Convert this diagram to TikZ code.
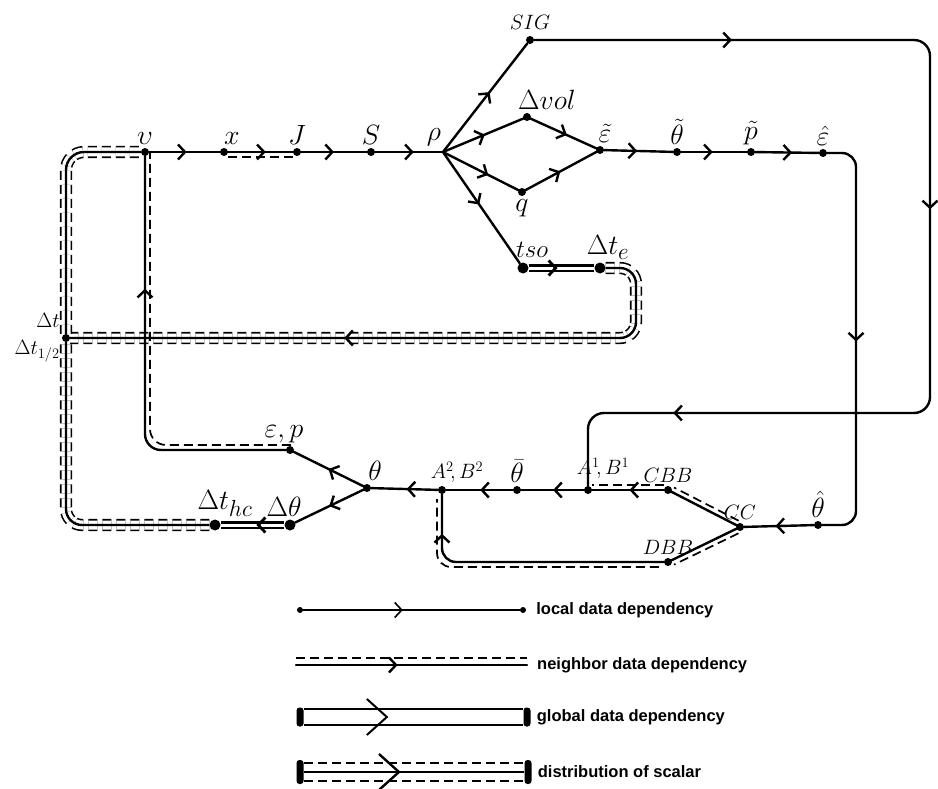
\documentclass[tikz,border=0pt]{standalone}
\usepackage{fontspec}
\setsansfont{Liberation Sans}
\usetikzlibrary{positioning,arrows.meta,calc,decorations.markings}
\newcommand{\hand}[1]{\scalebox{1.12}{$#1$}}

\begin{document}
\begin{tikzpicture}[x=1pt,y=-1pt,
  dot/.style={circle, fill, inner sep=0pt, minimum size=8pt},
  blob/.style={circle, fill, inner sep=0pt, minimum size=11pt},
  junc/.style={inner sep=0pt, minimum size=0pt},
  lab/.style={font=\fontsize{24.88}{28}\selectfont, inner sep=1pt, label distance=2pt},
  slab/.style={font=\fontsize{20.74}{22}\selectfont, inner sep=1pt, label distance=2pt},
  local/.style={line width=2.4pt, line cap=round},
  nbrdash/.style={line width=1.7pt, dash pattern=on 9pt off 5pt},
  glob/.style={line width=2.8pt, double, double distance=3pt},
  dist/.style={line width=2.4pt, preaction={draw, line width=1.6pt, dash pattern=on 9pt off 5pt, double, double distance=#1}},
  dist/.default=9pt,
  midarrow/.style={postaction={decorate, decoration={markings, mark=at position #1 with {\arrow{Straight Barb[length=7pt,width=15pt]}}}}},
  midarrow/.default=0.5,
  bigarrow/.style={postaction={decorate, decoration={markings, mark=at position #1 with {\arrow{Straight Barb[length=20pt,width=36pt]}}}}},
  legtext/.style={font=\sffamily\bfseries\fontsize{16.5}{18}\selectfont, inner sep=0pt},
  endcap/.style={fill, rounded corners=3pt, inner sep=0pt, minimum width=7pt, minimum height=19pt},
]
\useasboundingbox (0,0) rectangle (938,789);

% top row
\node[dot, label={[lab]above:\hand{\upsilon}}] (v) at (145,152) {};
\node[dot, label={[lab, xshift=8pt]above:\hand{x}}] (x) at (224,152) {};
\node[dot, label={[lab]above:\hand{J}}] (J) at (297,152) {};
\node[dot, label={[lab]above:\hand{S}}] (S) at (371,152) {};
\node[junc, label={[lab, label distance=5pt]100:\hand{\rho}}] (rho) at (443,152) {};
\node[dot, label={[slab, label distance=5pt]above:$SIG$}] (sig) at (530,40) {};
\node[dot, label={[lab, xshift=20pt]above:\hand{\Delta vol}}] (dvol) at (527,117) {};
\node[dot, label={[lab]below:\hand{q}}] (q) at (522,192) {};
\node[dot, label={[lab, xshift=5pt]above:\hand{\tilde\varepsilon}}] (etil) at (600,150) {};
\node[dot, label={[lab]above:\hand{\tilde\theta}}] (thtil) at (677,152) {};
\node[dot, label={[lab]above:\hand{\tilde p}}] (ptil) at (751,152) {};
\node[dot, label={[lab]above:\hand{\hat\varepsilon}}] (ehat) at (823,153) {};
\node[blob, label={[lab, xshift=9pt, label distance=4pt]above:$tso$}] (tso) at (523,268) {};
\node[blob, label={[lab, xshift=8pt]above:\hand{\Delta t_e}}] (dte) at (600,268) {};
\node[dot, label={[slab, font=\fontsize{20.74}{27}\selectfont, align=right, label distance=1pt]left:{$\Delta t$\\$\Delta t_{1/2}$}}] (dt) at (66,338) {};

% bottom row
\node[dot, label={[lab, xshift=-6pt]above:\hand{\varepsilon, p}}] (ep) at (290,450) {};
\node[dot, label={[lab, xshift=8pt]above:\hand{\theta}}] (th) at (367,488) {};
\node[blob, label={[lab, xshift=-6pt]above:\hand{\Delta\theta}}] (dth) at (290,525) {};
\node[blob, label={[lab, xshift=10pt]above:\hand{\Delta t_{hc}}}] (dthc) at (215,525) {};
\node[dot, label={[slab, xshift=15pt]above:$A^2\!,B^2$}] (ab2) at (442,490) {};
\node[dot, label={[lab]above:\hand{\bar\theta}}] (thbar) at (517,490) {};
\node[dot, label={[slab, xshift=15pt, yshift=4pt]above:$A^1\!,B^1$}] (ab1) at (588,490) {};
\node[dot, label={[slab]above:$CBB$}] (cbb) at (668,490) {};
\node[dot, label={[slab]above:$CC$}] (cc) at (740,527) {};
\node[dot, label={[lab]above:\hand{\hat\theta}}] (thhat) at (818,525) {};
\node[dot, label={[slab]above:$DBB$}] (dbb) at (668,562) {};

\coordinate (sigtr) at (930,40);
\coordinate (sigbr) at (930,413);
\coordinate (ehc) at (856,525);
\coordinate (tec) at (636,338);

% distribution of scalar
\draw[dist, rounded corners=16pt, midarrow=0.58] (dte) -- (dte -| tec) -- (tec) -- (dt);
\draw[dist, rounded corners=16pt] (dthc) -- (dthc -| dt) -- (dt);
\draw[dist, rounded corners=18pt] (dt) -- (dt |- v) -- (v);

% global
\draw[glob, midarrow] (tso) -- (dte);
\draw[glob, midarrow] (dth) -- (dthc);

% local
\draw[local, midarrow=0.53] (v) -- (x);
\draw[local, midarrow] (J) -- (S);
\draw[local, midarrow=0.57] (S) -- (rho);
\draw[local, midarrow=0.55] (rho) -- (sig);
\draw[local, midarrow=0.52] (rho) -- (dvol);
\draw[local, midarrow=0.6] (rho) -- (q);
\draw[local, midarrow=0.47] (rho) -- (tso);
\draw[local, midarrow=0.55] (dvol) -- (etil);
\draw[local, midarrow=0.49] (q) -- (etil);
\draw[local, midarrow=0.48] (etil) -- (thtil);
\draw[local, midarrow=0.48] (thtil) -- (ptil);
\draw[local, midarrow=0.58] (ptil) -- (ehat);
\draw[local, rounded corners=16pt, midarrow=0.17, midarrow=0.48, midarrow=0.87] (sig) -- (sigtr) -- (sigbr) -- (sigbr -| ab1) -- (ab1);
\draw[local, rounded corners=14pt, midarrow] (ehat) -- (ehat -| ehc) -- (ehc) -- (thhat);
\draw[local, midarrow=0.55] (thhat) -- (cc);
\draw[local, midarrow=0.49] (ab1) -- (thbar);
\draw[local, midarrow=0.49] (thbar) -- (ab2);
\draw[local, midarrow=0.47] (ab2) -- (th);
\draw[local, midarrow] (th) -- (ep);
\draw[local, midarrow] (th) -- (dth);

% neighbor
\draw[local, midarrow=0.58] (x) -- (J);
\draw[nbrdash, transform canvas={yshift=-5pt}] (x) -- (J);
\draw[local, midarrow=0.48] (cbb) -- (ab1);
\draw[nbrdash, transform canvas={yshift=5pt}] (cbb) -- (ab1);
\draw[local] (cc) -- (cbb);
\draw[nbrdash, transform canvas={shift={(2.3pt,4.4pt)}}] (cc) -- (cbb);
\draw[local] (cc) -- (dbb);
\draw[nbrdash, transform canvas={shift={(2.2pt,-4.5pt)}}] (cc) -- (dbb);
\draw[local, rounded corners=14pt, midarrow=0.86] (dbb) -- (dbb -| ab2) -- (ab2);
\draw[nbrdash, rounded corners=14pt, transform canvas={shift={(-5pt,-5pt)}}] (dbb) -- (dbb -| ab2) -- (ab2);
\draw[local, rounded corners=16pt, midarrow=0.69] (ep) -- (ep -| v) -- (v);
\draw[nbrdash, rounded corners=16pt, transform canvas={shift={(5pt,5pt)}}] (ep) -- (ep -| v) -- (v);

% legend
\node[dot, minimum size=6pt] (l1a) at (300,610) {};
\node[dot, minimum size=6pt] (l1b) at (523,610) {};
\draw[line width=1.6pt, midarrow=0.46] (l1a) -- (l1b);
\node[legtext, right=10pt of l1b] (t1) {local data dependency};

\coordinate (l2a) at (296,665);
\coordinate (l2b) at (527,665);
\draw[local, midarrow=0.44] (l2a) -- (l2b);
\draw[nbrdash, transform canvas={yshift=7pt}] (l2a) -- (l2b);
\node[legtext, right=10pt of l2b] (t2) {neighbor data dependency};

\node[endcap] (l3a) at (300,717) {};
\node[endcap] (l3b) at (527,717) {};
\draw[line width=2pt, double, double distance=14pt, bigarrow=0.44] (l3a) -- (l3b);
\node[legtext, right=6pt of l3b] (t3) {global data dependency};

\node[endcap, minimum height=24pt] (l4a) at (300,772) {};
\node[endcap, minimum height=24pt] (l4b) at (528,772) {};
\draw[dist=16pt, bigarrow=0.44] (l4a) -- (l4b);
\node[legtext, right=6pt of l4b] (t4) {distribution of scalar};
\end{tikzpicture}
\end{document}
